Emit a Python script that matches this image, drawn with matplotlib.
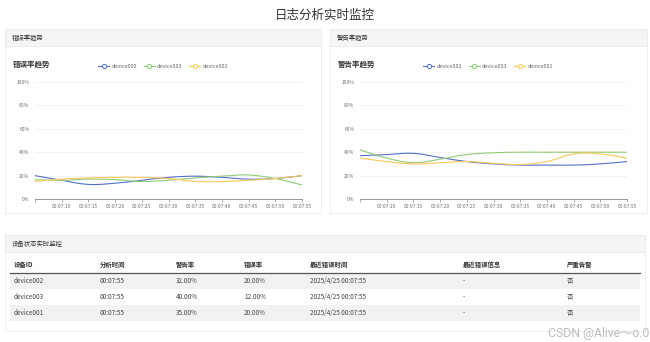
import matplotlib
matplotlib.use("Agg")
import matplotlib.pyplot as plt
from matplotlib.patches import Rectangle, PathPatch
from matplotlib.path import Path
from matplotlib.lines import Line2D

plt.rcParams['font.family'] = ['Noto Sans CJK SC', 'DejaVu Sans']

# data
times = ["00:07:05", "00:07:10", "00:07:15", "00:07:20", "00:07:25", "00:07:30",
         "00:07:35", "00:07:40", "00:07:45", "00:07:50", "00:07:55"]
devices = ["device002", "device003", "device001"]
err_002 = [20, 16, 12.5, 13.5, 16, 18.5, 19.5, 18.5, 17, 17.5, 20]
err_003 = [16.5, 16, 17, 16.5, 15, 16, 18, 19.5, 20.5, 17.5, 12]
err_001 = [15, 17, 18, 18.5, 18.5, 17.5, 15, 15, 16, 17.5, 20]
warn_002 = [37, 38, 39, 35.5, 32, 30, 29, 29, 29, 30, 32]
warn_003 = [42, 35, 31, 34, 38, 39.5, 40, 40, 40, 40, 40]
warn_001 = [35, 32, 30, 31, 32, 30.5, 29.5, 32, 38.5, 38.5, 35]

table_cols = ["设备ID", "分析时间", "警告率", "错误率", "最近错误时间", "最近错误信息", "严重告警"]
table_rows = [
    ["device002", "00:07:55", "32.00%", "20.00%", "2025/4/25 00:07:55", "-", "否"],
    ["device003", "00:07:55", "40.00%", "12.00%", "2025/4/25 00:07:55", "-", "否"],
    ["device001", "00:07:55", "35.00%", "20.00%", "2025/4/25 00:07:55", "-", "否"],
]
col_x = [14, 100, 176, 244, 310, 463, 567]

colors = ["#5470c6", "#91cc75", "#fac858"]
W, H = 650, 342

fig = plt.figure(figsize=(6.5, 3.42), dpi=100)
fig.patch.set_facecolor("white")

# overlay in pixel coords for panels, titles and the table
bg = fig.add_axes([0, 0, 1, 1], zorder=0)
bg.set_xlim(0, W)
bg.set_ylim(H, 0)
bg.axis("off")

bg.text(325, 15, "日志分析实时监控", ha="center", va="center", fontsize=9, color="#333333")


def panel(x0, y0, x1, y1, title):
    bg.add_patch(Rectangle((x0, y0), x1 - x0, y1 - y0, facecolor="white",
                           edgecolor="#ebebeb", lw=0.6))
    bg.add_patch(Rectangle((x0, y0), x1 - x0, 17, facecolor="#f5f5f5",
                           edgecolor="#ebebeb", lw=0.6))
    bg.text(x0 + 7, y0 + 9, title, ha="left", va="center", fontsize=4.6, color="#333333")


panel(5, 29, 321, 213, "错误率趋势")
panel(330, 29, 647, 213, "警告率趋势")
panel(5, 235, 645, 331, "设备状态实时监控")


def smooth_path(xs, ys, k=0.2):
    verts = [(xs[0], ys[0])]
    codes = [Path.MOVETO]
    n = len(xs)
    for i in range(n - 1):
        p0 = (xs[max(i - 1, 0)], ys[max(i - 1, 0)])
        p1 = (xs[i], ys[i])
        p2 = (xs[i + 1], ys[i + 1])
        p3 = (xs[min(i + 2, n - 1)], ys[min(i + 2, n - 1)])
        c1 = (p1[0] + (p2[0] - p0[0]) * k, p1[1] + (p2[1] - p0[1]) * k)
        c2 = (p2[0] - (p3[0] - p1[0]) * k, p2[1] - (p3[1] - p1[1]) * k)
        verts += [c1, c2, p2]
        codes += [Path.CURVE4] * 3
    return Path(verts, codes)


def trend_chart(left_px, title, series):
    ax = fig.add_axes([left_px / W, 1 - 199 / H, 267 / W, 117 / H], zorder=1)
    ax.patch.set_alpha(0)
    xs = list(range(len(times)))
    for vals, c in zip(series, colors):
        ax.add_patch(PathPatch(smooth_path(xs, vals), facecolor="none", edgecolor=c, lw=0.8))
    ax.set_xlim(0, len(times) - 1)
    ax.set_ylim(0, 100)
    ax.set_yticks([0, 20, 40, 60, 80, 100])
    ax.set_yticklabels([f"{v}%" for v in [0, 20, 40, 60, 80, 100]])
    ax.set_xticks(xs)
    ax.set_xticklabels([""] + times[1:])
    ax.grid(axis="y", color="#eeeeee", lw=0.5)
    ax.set_axisbelow(True)
    for s in ["top", "right", "left"]:
        ax.spines[s].set_visible(False)
    ax.spines["bottom"].set_color("#6e7079")
    ax.spines["bottom"].set_linewidth(0.5)
    ax.tick_params(axis="y", length=0, labelsize=3.6, labelcolor="#6e7079", pad=4)
    ax.tick_params(axis="x", length=2, width=0.4, color="#6e7079", labelsize=3.6,
                   labelcolor="#6e7079", pad=1.5)
    handles = [Line2D([], [], color=c, lw=0.8, marker="o", ms=3, mfc="white", mew=0.7)
               for c in colors]
    ax.legend(handles, devices, loc="lower center", bbox_to_anchor=(0.48, 1.07), ncol=3,
              frameon=False, fontsize=4, handlelength=2.0, columnspacing=1.2,
              handletextpad=0.4, labelcolor="#666666")
    bg.text(left_px - 22, 64, title, ha="left", va="center", fontsize=5.4,
            fontweight="bold", color="#333333")
    return ax


trend_chart(35, "错误率趋势", [err_002, err_003, err_001])
trend_chart(360, "警告率趋势", [warn_002, warn_003, warn_001])

# table
tx0, tx1 = 10, 640
for ci, name in enumerate(table_cols):
    bg.text(col_x[ci], 265, name, ha="left", va="center", fontsize=4.6,
            fontweight="bold", color="#333333")
bg.plot([tx0, tx1], [272.5, 272.5], color="#555555", lw=0.9)
row_h = 16
for ri, row in enumerate(table_rows):
    y0 = 273 + ri * row_h
    if ri % 2 == 0:
        bg.add_patch(Rectangle((tx0, y0), tx1 - tx0, row_h, facecolor="#f2f2f2",
                               edgecolor="none"))
    for ci, val in enumerate(row):
        bg.text(col_x[ci], y0 + row_h / 2, val, ha="left", va="center", fontsize=4.6,
                color="#444444")

bg.text(649, 333, "CSDN @Alive～o.0", ha="right", va="center", fontsize=8.8,
        color="#bdbdbd", family=["Roboto", "Noto Sans CJK SC", "DejaVu Sans"])

fig.savefig("out.png", dpi=100, facecolor="white")
